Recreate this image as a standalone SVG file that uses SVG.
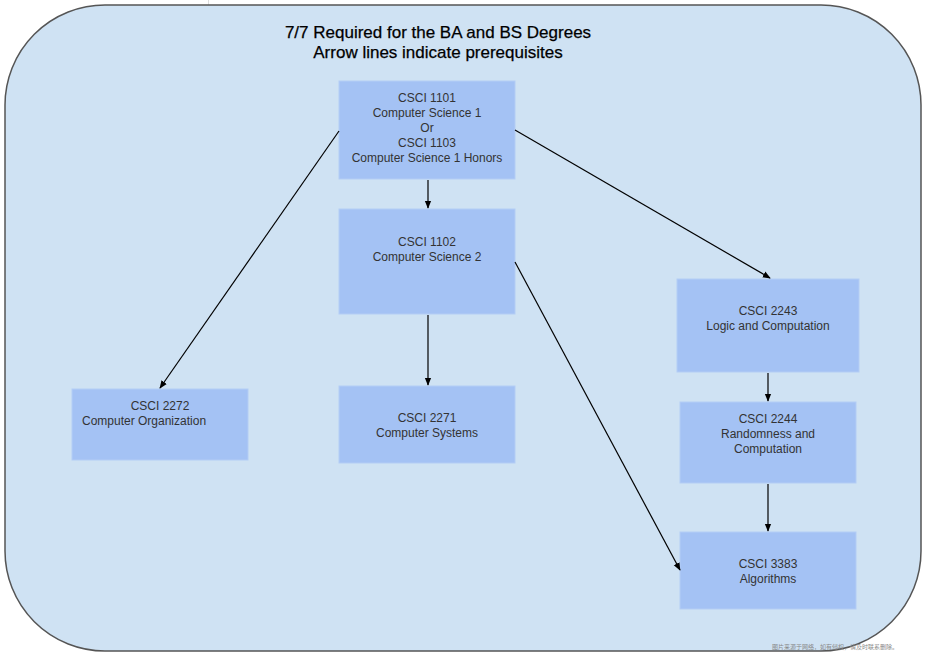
<svg xmlns="http://www.w3.org/2000/svg" width="932" height="657" viewBox="0 0 932 657">
<defs>
<marker id="ah" viewBox="0 0 10 10" refX="9" refY="5" markerWidth="8" markerHeight="8" orient="auto" markerUnits="userSpaceOnUse"><path d="M0,1 L10,5 L0,9 z" fill="#000"/></marker>
<style>
.n{fill:#a4c2f4;stroke:#b4cdf5;stroke-width:1}
.t{font-family:"Liberation Sans",Arial,sans-serif;font-size:12px;fill:#333;text-anchor:middle}
.c line{stroke:#000;stroke-width:1.2;marker-end:url(#ah)}
</style>
</defs>
<rect width="932" height="657" fill="#fff"/>
<line x1="208.5" y1="0" x2="208.5" y2="5" stroke="#ddd"/>
<rect id="bg" x="5" y="5" width="916" height="646" rx="100" ry="100" fill="#cfe2f3" stroke="#555" stroke-width="1.5"/>
<g id="title" font-family="'Liberation Sans',Arial,sans-serif" font-size="17" fill="#000" text-anchor="middle" stroke="#000" stroke-width="0.25">
<text x="438" y="38">7/7 Required for the BA and BS Degrees</text>
<text x="438" y="58">Arrow lines indicate prerequisites</text>
</g>
<g id="n1101"><rect class="n" x="339" y="81" width="176" height="98"/>
<text class="t" x="427" y="102">CSCI 1101</text><text class="t" x="427" y="117">Computer Science 1</text><text class="t" x="427" y="132">Or</text><text class="t" x="427" y="147">CSCI 1103</text><text class="t" x="427" y="162">Computer Science 1 Honors</text></g>
<g id="n1102"><rect class="n" x="339" y="209" width="176" height="105"/>
<text class="t" x="427" y="246">CSCI 1102</text><text class="t" x="427" y="261">Computer Science 2</text></g>
<g id="n2243"><rect class="n" x="677" y="279" width="182" height="93"/>
<text class="t" x="768" y="315">CSCI 2243</text><text class="t" x="768" y="330">Logic and Computation</text></g>
<g id="n2244"><rect class="n" x="680" y="402" width="176" height="81"/>
<text class="t" x="768" y="423">CSCI 2244</text><text class="t" x="768" y="438">Randomness and</text><text class="t" x="768" y="453">Computation</text></g>
<g id="n3383"><rect class="n" x="680" y="532" width="176" height="77"/>
<text class="t" x="768" y="568">CSCI 3383</text><text class="t" x="768" y="583">Algorithms</text></g>
<g id="n2272"><rect class="n" x="72" y="389" width="176" height="71"/>
<text class="t" x="160" y="410">CSCI 2272</text><text class="t" x="82" y="425" style="text-anchor:start">Computer Organization</text></g>
<g id="n2271"><rect class="n" x="339" y="386" width="176" height="77"/>
<text class="t" x="427" y="422">CSCI 2271</text><text class="t" x="427" y="437">Computer Systems</text></g>
<g class="c" id="connectors">
<line x1="428" y1="180" x2="428" y2="208"/>
<line x1="339" y1="131" x2="160" y2="388"/>
<line x1="515" y1="130" x2="770" y2="278"/>
<line x1="428" y1="315" x2="428" y2="385"/>
<line x1="515" y1="262" x2="680" y2="570"/>
<line x1="768" y1="373" x2="768" y2="401"/>
<line x1="768" y1="484" x2="768" y2="531"/>
</g>
<text x="772" y="649" font-family="'Noto Sans CJK SC',sans-serif" font-size="6" fill="#888">图片来源于网络，如有侵权，请及时联系删除。</text>
</svg>
